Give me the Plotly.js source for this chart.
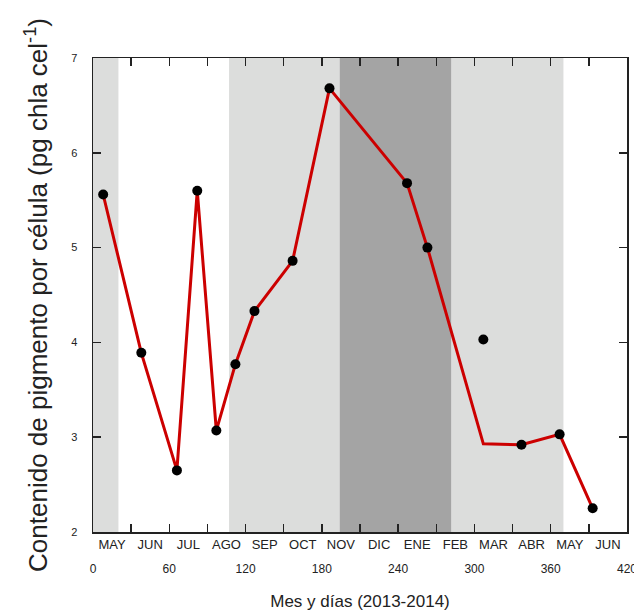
<!DOCTYPE html>
<html>
<head>
<meta charset="utf-8">
<script src="https://cdn.plot.ly/plotly-3.0.1.min.js"></script>
<style>html,body{margin:0;padding:0;background:#fff}#chart{width:634px;height:616px}</style>
</head>
<body>
<div id="chart"></div>
<script>
// Line series (days, pigment per cell)
const lineDays = [8, 38, 66, 82, 97, 112, 127, 157, 186, 247, 263, 307, 337, 367, 393];
const lineVals = [5.56, 3.89, 2.65, 5.60, 3.07, 3.77, 4.33, 4.86, 6.68, 5.68, 5.00, 2.93, 2.92, 3.03, 2.25];
// Measured points (markers)
const pointDays = [8, 38, 66, 82, 97, 112, 127, 157, 186, 247, 263, 307, 337, 367, 393];
const pointVals = [5.56, 3.89, 2.65, 5.60, 3.07, 3.77, 4.33, 4.86, 6.68, 5.68, 5.00, 4.03, 2.92, 3.03, 2.25];
// Month labels and their day positions
const monthLabels = ['MAY','JUN','JUL','AGO','SEP','OCT','NOV','DIC','ENE','FEB','MAR','ABR','MAY','JUN'];
const monthDays = [15, 45, 75, 105, 135, 165, 195, 225, 255, 285, 315, 345, 375, 405];
// Day ticks
const dayTicks = [0, 30, 60, 90, 120, 150, 180, 210, 240, 270, 300, 330, 360, 390, 420];
const dayTickText = ['0','','60','','120','','180','','240','','300','','360','','420'];
// Seasonal shading bands (start day, end day, shade)
const bandStart = [0, 107, 194, 282];
const bandEnd = [20, 194, 282, 370];
const bandShade = ['light', 'light', 'dark', 'light'];

const shadeColor = {light: '#dcdddc', dark: '#a4a4a4'};
const shapes = bandStart.map((s, i) => ({
  type: 'rect', xref: 'x', yref: 'paper', x0: s, x1: bandEnd[i], y0: 0, y1: 1,
  fillcolor: shadeColor[bandShade[i]], line: {width: 0}, layer: 'below'
}));

const traces = [
  {x: lineDays, y: lineVals, mode: 'lines', line: {color: '#cc0000', width: 3}, hoverinfo: 'skip', showlegend: false},
  {x: pointDays, y: pointVals, mode: 'markers', marker: {color: '#000', size: 10}, showlegend: false},
  {x: monthDays, y: monthDays.map(() => null), xaxis: 'x2', mode: 'markers', showlegend: false, hoverinfo: 'skip'}
];

const layout = {
  width: 634, height: 616,
  margin: {l: 93, r: 7, t: 58, b: 84},
  paper_bgcolor: '#fff', plot_bgcolor: '#fff',
  font: {family: 'Liberation Sans, Arial, sans-serif', color: '#222'},
  shapes: shapes,
  xaxis: {
    range: [0, 420], tickmode: 'array', tickvals: dayTicks, ticktext: dayTickText,
    ticks: 'inside', ticklen: 8, tickwidth: 1.5, tickcolor: '#222',
    showline: true, linecolor: '#222', linewidth: 1.5, mirror: 'ticks',
    showgrid: false, zeroline: false,
    tickfont: {size: 12, color: '#222'}, ticklabelstandoff: 25, ticklabeloverflow: 'allow',
    title: {text: 'Mes y días (2013-2014)', font: {size: 17, color: '#222'}, standoff: 20}
  },
  xaxis2: {
    overlaying: 'x', side: 'bottom', anchor: 'y', range: [0, 420],
    tickmode: 'array', tickvals: monthDays, ticktext: monthLabels,
    ticks: '', showline: false, showgrid: false, zeroline: false,
    tickfont: {size: 13, color: '#222'}, ticklabelstandoff: 3
  },
  yaxis: {
    range: [2, 7], dtick: 1, ticks: 'inside', ticklen: 8, tickwidth: 1.5, tickcolor: '#222',
    showline: true, linecolor: '#222', linewidth: 1.5, mirror: 'ticks',
    showgrid: false, zeroline: false,
    tickfont: {size: 11, color: '#222'}, ticklabelstandoff: 12,
    title: {text: 'Contenido de pigmento por célula (pg chla cel<sup>-1</sup>)', font: {size: 26, color: '#222'}, standoff: 16}
  }
};

Plotly.newPlot('chart', traces, layout, {displayModeBar: false, staticPlot: true});
</script>
</body>
</html>
